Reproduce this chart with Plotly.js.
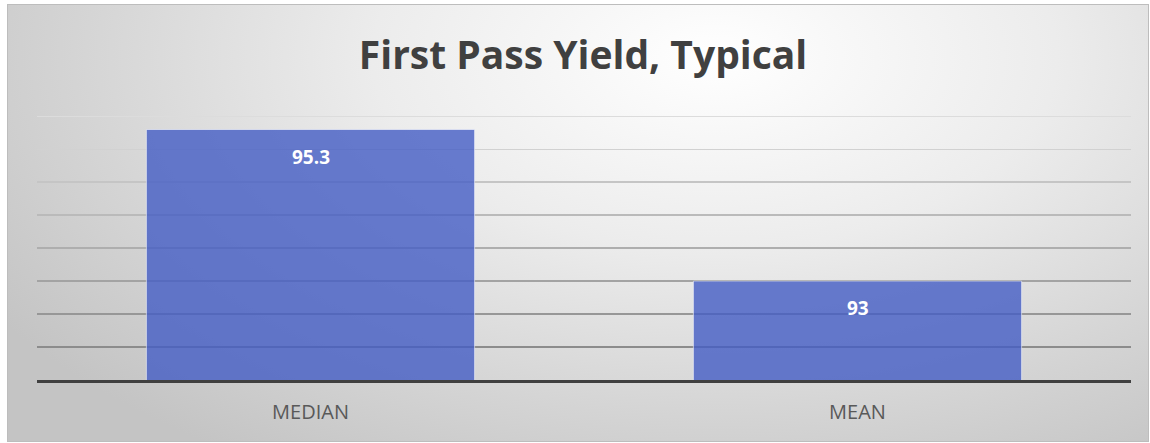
<!DOCTYPE html>
<html>
<head>
<meta charset="utf-8">
<script src="https://cdn.plot.ly/plotly-3.0.1.min.js"></script>
<style>
  html, body { margin: 0; padding: 0; background: #ffffff; }
  #wrap { position: relative; width: 1150px; height: 443px; }
  #bg { position: absolute; left: 7px; top: 4px; width: 1140px; height: 436px;
        border: 1px solid #bdbdbd;
        background: radial-gradient(ellipse 75% 110% at 62% 12%, #ffffff 0%, #ececec 40%, #d4d4d4 75%, #c4c4c4 100%); }
  #chart { position: absolute; left: 0; top: 0; width: 1150px; height: 443px; }
</style>
</head>
<body>
<div id="wrap"><div id="bg"></div><div id="chart"></div></div>
<script>
const categories = ["MEDIAN", "MEAN"];
const values = [95.3, 93];
const valueLabels = ["95.3", "93"];
const gridTicks = [92, 92.5, 93, 93.5, 94, 94.5, 95, 95.5];
const yRange = [91.5, 95.52];

const trace = {
  type: 'bar',
  x: categories,
  y: values,
  width: 0.6,
  marker: { color: 'rgba(68, 92, 196, 0.8)', line: { color: 'rgba(255,255,255,0.55)', width: 1 } },
  hoverinfo: 'none',
  cliponaxis: true
};

const annotations = categories.map((c, i) => ({
  x: c, y: values[i], xref: 'x', yref: 'y',
  text: valueLabels[i], showarrow: false,
  yanchor: 'middle', yshift: -27,
  font: { family: 'Open Sans, sans-serif', size: 19, color: '#ffffff', weight: 'bold' }
}));

const layout = {
  width: 1150, height: 443,
  paper_bgcolor: 'rgba(0,0,0,0)',
  plot_bgcolor: 'rgba(0,0,0,0)',
  margin: { l: 37, r: 19, t: 115, b: 63 },
  title: {
    text: '<b>First Pass Yield, Typical</b>',
    x: 0.507, xanchor: 'center', y: 0.876, yanchor: 'middle',
    font: { family: 'Open Sans, sans-serif', size: 39, color: '#404040' }
  },
  showlegend: false,
  bargap: 0.4,
  xaxis: {
    type: 'category',
    showline: true, linecolor: '#404040', linewidth: 3,
    showgrid: false, zeroline: false,
    ticks: '', ticklabelstandoff: 12,
    tickfont: { family: 'Open Sans, sans-serif', size: 20, color: '#595959' }
  },
  yaxis: {
    range: yRange,
    tickvals: gridTicks,
    showticklabels: false,
    showgrid: true, gridcolor: '#b0b0b0', gridwidth: 1.5,
    zeroline: false, showline: false, ticks: ''
  },
  annotations: annotations
};

Plotly.newPlot('chart', [trace], layout, { displayModeBar: false, staticPlot: true }).then(gd => {
  // Gridlines fade from light at the top to darker at the bottom
  const lines = Array.from(gd.querySelectorAll('.gridlayer path.ygrid'));
  const withY = lines.map(el => {
    const t = el.getAttribute('transform') || '';
    const m = t.match(/translate\(\s*[-\d.]+\s*,\s*([-\d.]+)/);
    return { el, y: m ? parseFloat(m[1]) : 0 };
  }).sort((a, b) => a.y - b.y);
  const n = withY.length;
  withY.forEach((o, i) => {
    const f = n > 1 ? i / (n - 1) : 0;
    const c = Math.round(0xdc + (0x8c - 0xdc) * f);
    o.el.style.stroke = `rgb(${c},${c},${c})`;
    o.el.style.strokeOpacity = 1;
  });
});
</script>
</body>
</html>
